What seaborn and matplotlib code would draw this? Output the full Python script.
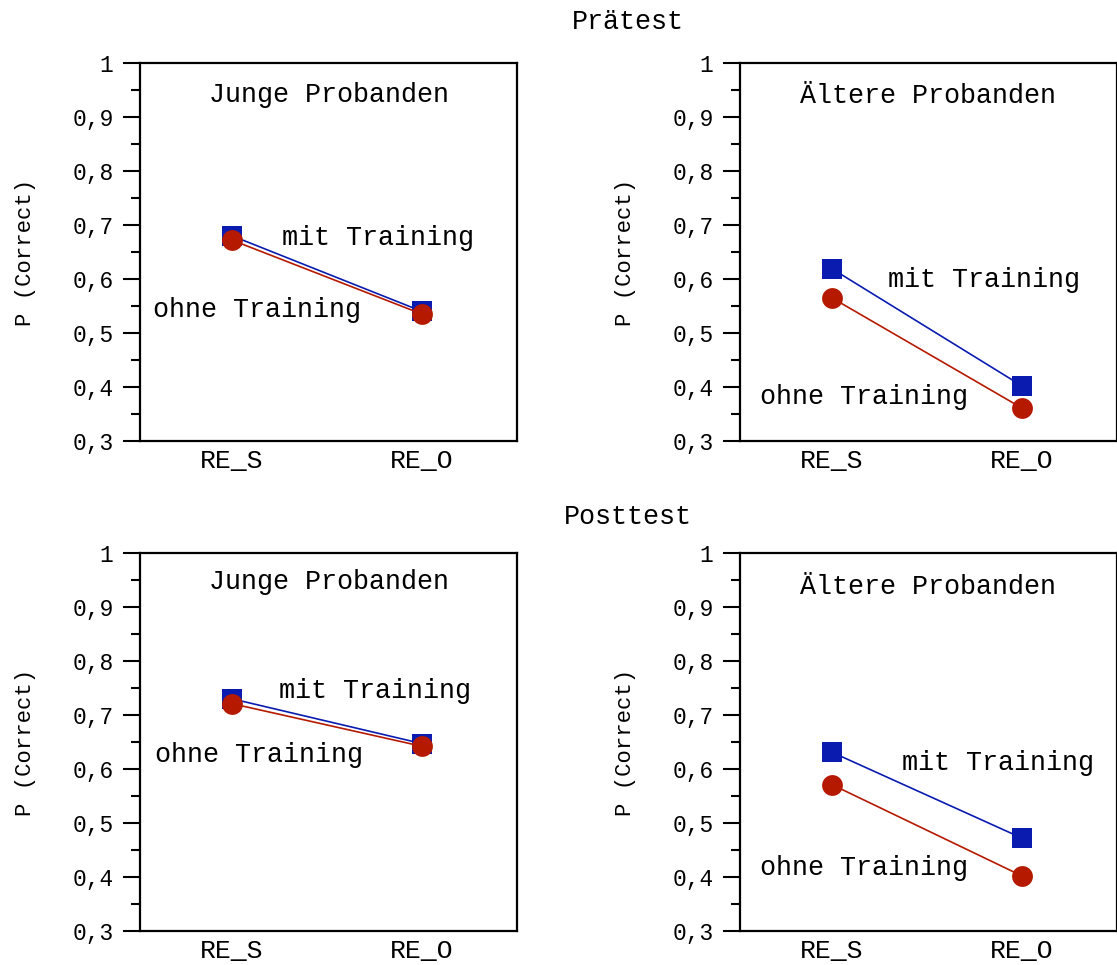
import matplotlib
matplotlib.use("Agg")
import matplotlib.pyplot as plt
import matplotlib.transforms as mtransforms
from matplotlib.ticker import MultipleLocator, FixedLocator
import seaborn as sns
import pandas as pd

# ---- data ----
conditions = ["RE_S", "RE_O"]
groups = ["mit Training", "ohne Training"]
panel_titles = ["Junge Probanden", "Ältere Probanden"]
row_titles = ["Prätest", "Posttest"]

pre_young_mit = [0.680, 0.540]
pre_young_ohne = [0.672, 0.535]
pre_old_mit = [0.619, 0.402]
pre_old_ohne = [0.565, 0.361]
post_young_mit = [0.730, 0.647]
post_young_ohne = [0.721, 0.642]
post_old_mit = [0.631, 0.472]
post_old_ohne = [0.571, 0.402]

y_ticks = [0.3, 0.4, 0.5, 0.6, 0.7, 0.8, 0.9, 1.0]
y_tick_labels = ["0,3", "0,4", "0,5", "0,6", "0,7", "0,8", "0,9", "1"]

panels = [
    (pre_young_mit, pre_young_ohne),
    (pre_old_mit, pre_old_ohne),
    (post_young_mit, post_young_ohne),
    (post_old_mit, post_old_ohne),
]

# label placements (axes-fraction x, data y) for "mit"/"ohne" labels
label_pos = [
    ((0.377, 0.676), (0.034, 0.543)),
    ((0.393, 0.598), (0.053, 0.381)),
    ((0.369, 0.744), (0.040, 0.626)),
    ((0.430, 0.611), (0.053, 0.417)),
]
title_y = [0.941, 0.939, 0.946, 0.937]

sns.set_theme(style="white")
plt.rcParams["font.family"] = ["Liberation Mono", "DejaVu Sans Mono"]
plt.rcParams["text.color"] = "black"
plt.rcParams["axes.labelcolor"] = "black"
plt.rcParams["xtick.color"] = "black"
plt.rcParams["ytick.color"] = "black"

colors = {"mit Training": "#0a1cb0", "ohne Training": "#b51a00"}
markers = {"mit Training": "s", "ohne Training": "o"}

fig = plt.figure(figsize=(11.17, 9.65), dpi=100)
W, H = 1117, 965
ax_w, ax_h = 377 / W, 378 / H
lefts = [140 / W, 740 / W]
bottoms = [1 - 441 / H, 1 - 931 / H]
FS = 19.3

for i, (mit, ohne) in enumerate(panels):
    r, c = divmod(i, 2)
    ax = fig.add_axes([lefts[c], bottoms[r], ax_w, ax_h])
    df = pd.DataFrame({
        "cond": conditions * 2,
        "val": mit + ohne,
        "group": [groups[0]] * 2 + [groups[1]] * 2,
    })
    sns.lineplot(data=df, x="cond", y="val", hue="group", style="group",
                 hue_order=groups, style_order=groups,
                 palette=colors, markers=markers, dashes=False,
                 markersize=15, markeredgewidth=0, linewidth=1.2,
                 legend=False, ax=ax, sort=False)
    ax.set_xlim(-0.484, 1.5)
    ax.set_ylim(0.3, 1.0)
    ax.yaxis.set_major_locator(FixedLocator(y_ticks))
    ax.set_yticklabels(y_tick_labels)
    ax.yaxis.set_minor_locator(MultipleLocator(0.05))
    ax.tick_params(axis="y", which="major", direction="out", length=12,
                   width=1.5, labelsize=16.5, pad=7, left=True, colors="black")
    ax.tick_params(axis="y", which="minor", direction="out", length=6.5,
                   width=1.5, left=True, colors="black")
    ax.tick_params(axis="x", length=0, labelsize=19, pad=6, colors="black")
    ax.set_xlabel("")
    ax.set_ylabel("P (Correct)", fontsize=16, labelpad=26, color="black")
    for s in ax.spines.values():
        s.set_linewidth(1.6)
        s.set_color("black")
    tr = mtransforms.blended_transform_factory(ax.transAxes, ax.transData)
    ax.text(0.5, title_y[i], panel_titles[c], ha="center", va="center",
            fontsize=FS, transform=tr, color="black")
    (mx, my), (ox, oy) = label_pos[i]
    ax.text(mx, my, groups[0], ha="left", va="center", fontsize=FS,
            transform=tr, color="black")
    ax.text(ox, oy, groups[1], ha="left", va="center", fontsize=FS,
            transform=tr, color="black")

fig.text(628 / W, 1 - 22 / H, row_titles[0], ha="center", va="center",
         fontsize=FS, color="black")
fig.text(628 / W, 1 - 517 / H, row_titles[1], ha="center", va="center",
         fontsize=FS, color="black")

fig.savefig("out.png", dpi=100, facecolor="white")
